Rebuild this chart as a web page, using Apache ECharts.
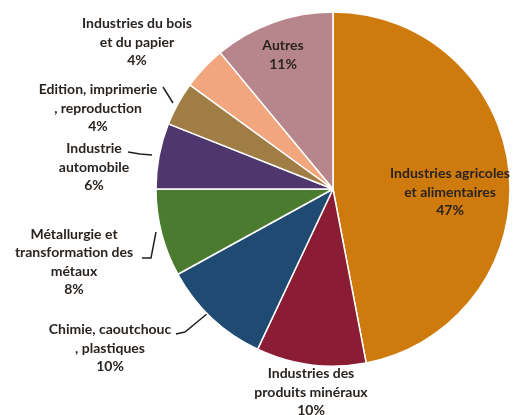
<!DOCTYPE html>
<html>
<head>
<meta charset="utf-8">
<script src="https://cdn.jsdelivr.net/npm/echarts@6/dist/echarts.min.js"></script>
<style>
  html, body { margin: 0; padding: 0; background: #ffffff; }
  #chart { width: 514px; height: 415px; }
</style>
</head>
<body>
<div id="chart"></div>
<script>
// Sector breakdown (%), clockwise from 12 o'clock
const categories = [
  'Industries agricoles\net alimentaires',
  'Industries des\nproduits minéraux',
  'Chimie, caoutchouc\n, plastiques',
  'Métallurgie et\ntransformation des\nmétaux',
  'Industrie\nautomobile',
  'Edition, imprimerie\n, reproduction',
  'Industries du bois\net du papier',
  'Autres'
];
const shares = [47, 10, 10, 8, 6, 4, 4, 11];
const colors = ['#CF7A0C', '#8A1C33', '#1F4A72', '#4A7B2E', '#4F376D', '#A07D45', '#F1A67D', '#B7868C'];

// Label placement: centre of each text block, plus optional leader line
const labelSpots = [
  { x: 450, y: 192, line: null },
  { x: 311, y: 392, line: null },
  { x: 110, y: 348, line: [[176, 334], [185, 332], [208, 313]] },
  { x: 74,  y: 262, line: [[142, 258], [151, 258], [156, 232]] },
  { x: 94,  y: 167, line: [[128, 152], [140, 154], [152, 155]] },
  { x: 98,  y: 108, line: [[163, 87], [168, 95], [173, 103]] },
  { x: 137, y: 42,  line: null },
  { x: 283, y: 55,  line: null }
];

const chart = echarts.init(document.getElementById('chart'), null, { renderer: 'canvas' });

const data = categories.map((name, i) => ({
  name: name,
  value: shares[i],
  itemStyle: { color: colors[i] },
  labelLine: { show: !!labelSpots[i].line }
}));

chart.setOption({
  animation: false,
  series: [{
    type: 'pie',
    center: [333, 189],
    radius: [0, 177],
    startAngle: 90,
    clockwise: true,
    avoidLabelOverlap: false,
    itemStyle: { borderColor: '#ffffff', borderWidth: 1.5 },
    label: {
      show: true,
      position: 'outside',
      formatter: p => p.name + '\n' + p.value + '%',
      fontFamily: 'Lato, "Open Sans", sans-serif',
      fontWeight: 'bold',
      fontSize: 14,
      lineHeight: 18.5,
      color: '#2a2420',
      align: 'center'
    },
    labelLine: {
      show: true,
      lineStyle: { color: '#222222', width: 1.5 }
    },
    labelLayout: function (params) {
      const s = labelSpots[params.dataIndex];
      const out = { x: s.x, y: s.y, align: 'center', verticalAlign: 'middle' };
      if (s.line) out.labelLinePoints = s.line;
      return out;
    },
    data: data
  }]
});
</script>
</body>
</html>
